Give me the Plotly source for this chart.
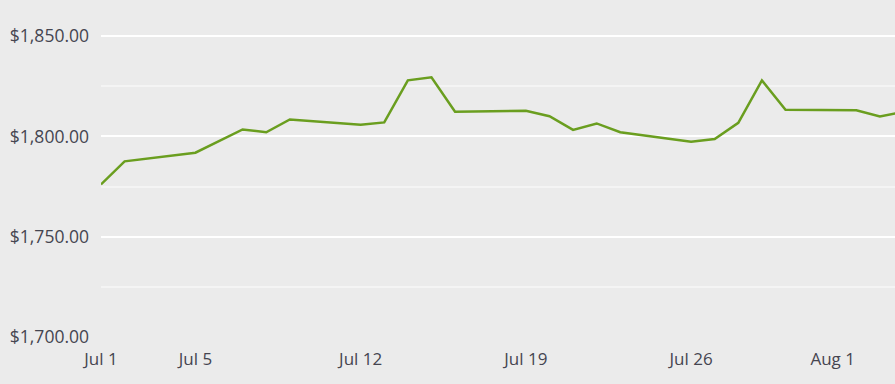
import plotly.graph_objects as go

dates = ["2021-07-01", "2021-07-02", "2021-07-05", "2021-07-07", "2021-07-08", "2021-07-09",
         "2021-07-12", "2021-07-13", "2021-07-14", "2021-07-15", "2021-07-16", "2021-07-19",
         "2021-07-20", "2021-07-21", "2021-07-22", "2021-07-23", "2021-07-26", "2021-07-27",
         "2021-07-28", "2021-07-29", "2021-07-30", "2021-08-02", "2021-08-03", "2021-08-04"]
prices = [1776.1, 1787.6, 1791.9, 1803.5, 1802.1, 1808.5,
          1805.8, 1807.0, 1828.0, 1829.5, 1812.3, 1812.8,
          1810.1, 1803.3, 1806.5, 1802.1, 1797.4, 1798.7,
          1806.8, 1827.9, 1813.3, 1813.1, 1810.0, 1812.2]

x_tickvals = ["2021-07-01", "2021-07-05", "2021-07-12", "2021-07-19", "2021-07-26", "2021-08-01"]
x_ticktext = ["Jul 1", "Jul 5", "Jul 12", "Jul 19", "Jul 26", "Aug 1"]
y_tickvals = [1700, 1750, 1800, 1850]
y_ticktext = ["$1,700.00", "$1,750.00", "$1,800.00", "$1,850.00"]

fig = go.Figure()
fig.add_trace(go.Scatter(x=dates, y=prices, mode="lines",
                         line=dict(color="#6a9e1f", width=2.5), hoverinfo="skip"))

fig.update_layout(
    width=895, height=384,
    margin=dict(l=101, r=0, t=0, b=46),
    paper_bgcolor="#ebebeb", plot_bgcolor="#ebebeb",
    showlegend=False,
    font=dict(family="Open Sans", color="#454550", size=17),
)
fig.update_xaxes(
    range=["2021-07-01", "2021-08-03 15:20"],
    tickvals=x_tickvals, ticktext=x_ticktext,
    showgrid=False, zeroline=False, showline=False,
    tickfont=dict(size=17), ticklabelstandoff=9,
)
fig.update_yaxes(
    range=[1699.6, 1868],
    tickvals=y_tickvals, ticktext=y_ticktext,
    showgrid=True, gridcolor="#ffffff", gridwidth=2,
    zeroline=False, showline=False,
    ticklabelstandoff=11,
    tickfont=dict(size=17.5),
    minor=dict(tickvals=[1725, 1775, 1825], showgrid=True, gridcolor="#f4f4f4", gridwidth=2),
)

fig.write_html("out.html")
